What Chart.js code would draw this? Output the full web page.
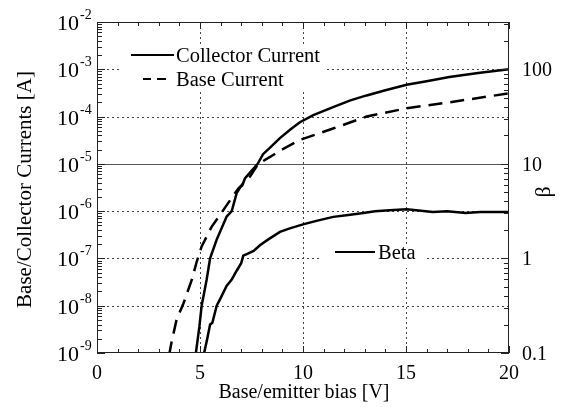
<!DOCTYPE html>
<html>
<head>
<meta charset="utf-8">
<script src="https://cdn.jsdelivr.net/npm/chart.js@4.4.0/dist/chart.umd.min.js"></script>
<style>
html, body { margin: 0; padding: 0; background: #fff; }
</style>
</head>
<body>
<canvas id="chart" width="561" height="407"></canvas>
<script>
// values
const collectorV = [4.8, 4.97, 5.08, 5.32, 5.49, 5.81, 6.29, 6.54, 6.78, 6.95, 7.05, 7.18, 7.5, 7.8, 8.06, 8.4, 8.88, 9.4, 9.85, 10.5, 11.46, 12.3, 13.09, 14.0, 15.03, 16.0, 17.1, 18.5, 20];
const collectorI = [1.0e-9, 3.6e-9, 1.0e-8, 3.5e-8, 1.0e-7, 2.5e-7, 7.6e-7, 1.0e-6, 2.4e-6, 3.2e-6, 3.5e-6, 4.9e-6, 7.1e-6, 1.0e-5, 1.6e-5, 2.2e-5, 3.5e-5, 5.4e-5, 7.6e-5, 1.07e-4, 1.58e-4, 2.2e-4, 2.8e-4, 3.6e-4, 4.7e-4, 5.6e-4, 6.9e-4, 8.3e-4, 1.0e-3];

const baseV = [3.5, 3.62, 3.86, 4.19, 4.6, 4.84, 5.08, 5.57, 6.13, 6.5, 6.86, 7.43, 7.83, 8.4, 8.88, 9.85, 11.46, 13.09, 15.03, 17.1, 20];
const baseI = [9.0e-10, 1.7e-9, 5.0e-9, 1.1e-8, 3.5e-8, 8.5e-8, 1.8e-7, 4.7e-7, 1.05e-6, 1.8e-6, 3.0e-6, 5.4e-6, 1.0e-5, 1.4e-5, 1.9e-5, 3.2e-5, 5.6e-5, 1.0e-4, 1.5e-4, 2.0e-4, 3.1e-4];

const betaV = [5.2, 5.35, 5.49, 5.6, 5.81, 6.0, 6.29, 6.55, 6.78, 7.0, 7.1, 7.3, 7.6, 7.91, 8.3, 8.88, 9.4, 10.0, 10.7, 11.47, 12.2, 12.93, 13.5, 14.2, 15.03, 15.5, 16.3, 17.0, 17.9, 18.6, 19.3, 20];
const betaVal = [0.1, 0.141, 0.2, 0.209, 0.316, 0.38, 0.513, 0.603, 0.741, 0.891, 1.07, 1.12, 1.2, 1.38, 1.58, 1.91, 2.09, 2.29, 2.51, 2.75, 2.88, 3.02, 3.16, 3.24, 3.31, 3.24, 3.09, 3.16, 3.02, 3.09, 3.09, 3.09];

const xTicks = [0, 5, 10, 15, 20];
const currentExps = [-9, -8, -7, -6, -5, -4, -3, -2];
const betaTicks = [0.1, 1, 10, 100];
const betaLabels = ['0.1', '1', '10', '100'];

const serif = '"Liberation Serif", "Times New Roman", serif';

function pts(xs, ys) {
    return xs.map((x, i) => ({ x: x, y: ys[i] }));
}

const drawAxes = {
    id: 'drawAxes',
    beforeDatasetsDraw(chart) {
        const ctx = chart.ctx;
        const a = chart.chartArea;
        const sx = chart.scales.x, sy = chart.scales.y;
        ctx.save();
        ctx.strokeStyle = '#444';
        ctx.lineWidth = 1;
        // vertical grid
        ctx.setLineDash([2, 3]);
        [5, 10, 15].forEach(v => {
            const px = Math.round(sx.getPixelForValue(v)) + 0.5;
            ctx.beginPath(); ctx.moveTo(px, a.top); ctx.lineTo(px, a.bottom); ctx.stroke();
        });
        // horizontal grid
        currentExps.slice(1, -1).forEach(e => {
            const py = Math.round(sy.getPixelForValue(Math.pow(10, e))) + 0.5;
            ctx.setLineDash(e === -5 ? [] : [2, 3]);
            ctx.strokeStyle = e === -5 ? '#555' : '#444';
            ctx.beginPath(); ctx.moveTo(a.left, py); ctx.lineTo(a.right, py); ctx.stroke();
        });
        ctx.setLineDash([]);
        // legend backgrounds
        ctx.fillStyle = '#fff';
        ctx.fillRect(121, 44, 205, 46);
        ctx.fillRect(321, 244, 104, 24);
        ctx.restore();
    },
    afterDatasetsDraw(chart) {
        const ctx = chart.ctx;
        const a = chart.chartArea;
        const sx = chart.scales.x, sy = chart.scales.y, sb = chart.scales.y1;
        ctx.save();
        ctx.strokeStyle = '#222';
        ctx.lineWidth = 1;
        ctx.strokeRect(a.left + 0.5, a.top + 0.5, a.right - a.left - 1, a.bottom - a.top - 1);

        ctx.beginPath();
        // x ticks top and bottom
        for (let v = 0; v <= 20; v++) {
            const px = Math.round(sx.getPixelForValue(v)) + 0.5;
            const len = v % 5 === 0 ? 7 : 4;
            ctx.moveTo(px, a.bottom); ctx.lineTo(px, a.bottom - len);
            ctx.moveTo(px, a.top); ctx.lineTo(px, a.top + len);
        }
        // left log ticks
        for (let e = -9; e < -2; e++) {
            for (let m = 1; m <= 9; m++) {
                const py = Math.round(sy.getPixelForValue(m * Math.pow(10, e))) + 0.5;
                const len = m === 1 ? 8 : 5;
                ctx.moveTo(a.left, py); ctx.lineTo(a.left + len, py);
            }
        }
        // right log ticks (beta)
        for (let e = -1; e <= 2; e++) {
            for (let m = 1; m <= 9; m++) {
                const val = m * Math.pow(10, e);
                if (val > sb.max) break;
                const py = Math.round(sb.getPixelForValue(val)) + 0.5;
                const len = m === 1 ? 8 : 5;
                ctx.moveTo(a.right, py); ctx.lineTo(a.right - len, py);
            }
        }
        ctx.stroke();

        ctx.fillStyle = '#000';
        // x tick labels
        ctx.font = '20px ' + serif;
        ctx.textAlign = 'center';
        ctx.textBaseline = 'alphabetic';
        xTicks.forEach(v => {
            ctx.fillText(String(v), sx.getPixelForValue(v), a.bottom + 26);
        });
        // left tick labels 10^n
        currentExps.forEach(e => {
            const py = sy.getPixelForValue(Math.pow(10, e));
            ctx.font = '22px ' + serif;
            ctx.textAlign = 'right';
            ctx.fillText('10', 79, py + 8);
            ctx.font = '14px ' + serif;
            ctx.textAlign = 'left';
            ctx.fillText(String(e), 80, py - 3);
        });
        // right tick labels
        ctx.font = '20px ' + serif;
        ctx.textAlign = 'left';
        betaTicks.forEach((v, i) => {
            ctx.fillText(betaLabels[i], a.right + 13, sb.getPixelForValue(v) + 7);
        });

        // axis titles
        ctx.font = '20px ' + serif;
        ctx.textAlign = 'center';
        ctx.fillText('Base/emitter bias [V]', 304, 398);
        ctx.save();
        ctx.translate(31, (a.top + a.bottom) / 2 + 2);
        ctx.rotate(-Math.PI / 2);
        ctx.font = '21px ' + serif;
        ctx.fillText('Base/Collector Currents [A]', 0, 0);
        ctx.restore();
        ctx.save();
        ctx.translate(550, 192);
        ctx.rotate(-Math.PI / 2);
        ctx.font = '22px ' + serif;
        ctx.fillText('β', 0, 0);
        ctx.restore();

        // legend
        ctx.strokeStyle = '#000';
        ctx.lineWidth = 2;
        ctx.beginPath(); ctx.moveTo(131, 55); ctx.lineTo(174, 55); ctx.stroke();
        ctx.beginPath(); ctx.moveTo(143, 79); ctx.lineTo(151, 79); ctx.moveTo(157, 79); ctx.lineTo(166, 79); ctx.stroke();
        ctx.beginPath(); ctx.moveTo(335, 252); ctx.lineTo(375, 252); ctx.stroke();
        ctx.font = '20.5px ' + serif;
        ctx.textAlign = 'left';
        ctx.fillText('Collector Current', 176, 62);
        ctx.fillText('Base Current', 176, 86);
        ctx.fillText('Beta', 378, 259);
        ctx.restore();
    }
};

new Chart(document.getElementById('chart'), {
    type: 'line',
    data: {
        datasets: [
            { label: 'Collector Current', data: pts(collectorV, collectorI), yAxisID: 'y', borderColor: '#000', borderWidth: 2.5, pointRadius: 0, tension: 0 },
            { label: 'Base Current', data: pts(baseV, baseI), yAxisID: 'y', borderColor: '#000', borderWidth: 2.5, borderDash: [14, 8], pointRadius: 0, tension: 0 },
            { label: 'Beta', data: pts(betaV, betaVal), yAxisID: 'y1', borderColor: '#000', borderWidth: 2.5, pointRadius: 0, tension: 0 }
        ]
    },
    options: {
        responsive: false,
        devicePixelRatio: 1,
        animation: false,
        layout: { padding: { left: 97, right: 52, top: 22, bottom: 54 } },
        plugins: { legend: { display: false }, tooltip: { enabled: false } },
        scales: {
            x: { type: 'linear', min: 0, max: 20, display: false },
            y: { type: 'logarithmic', min: 1e-9, max: 1e-2, display: false },
            y1: { type: 'logarithmic', min: 0.1, max: Math.pow(10, 2.5), display: false }
        }
    },
    plugins: [drawAxes]
});
</script>
</body>
</html>
